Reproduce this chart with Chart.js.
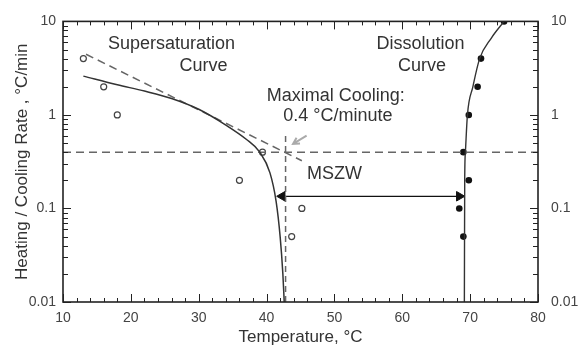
<!DOCTYPE html>
<html lang="en">
<head>
<meta charset="UTF-8">
<title>MSZW</title>
<style>
  html, body { margin: 0; padding: 0; background: #fff; }
</style>
</head>
<body>
<canvas id="grafico" width="579" height="348"></canvas>
<script src="https://cdn.jsdelivr.net/npm/chart.js"></script>
<script>
// tick labels
const xTicks = [10, 20, 30, 40, 50, 60, 70, 80];
const rateTicks = [0.01, 0.1, 1, 10];

// measured points (open = cooling, filled = heating)
const superX = [13, 16, 18, 36, 39.4, 43.7, 45.2];
const superRate = [4, 2, 1, 0.2, 0.4, 0.05, 0.1];
const dissX = [68.4, 69, 69, 69.8, 69.8, 71.1, 71.6, 75];
const dissRate = [0.1, 0.05, 0.4, 0.2, 1, 2, 4, 10];

// smooth curves
const superCurveX = [13, 18, 22, 26, 30, 34, 37, 39, 40.5, 41.4, 42, 42.4, 42.6];
const superCurveRate = [2.6, 2.1, 1.8, 1.5, 1.15, 0.78, 0.55, 0.4, 0.24, 0.12, 0.05, 0.02, 0.01];
const dissCurveX = [69.15, 69.2, 69.3, 69.6, 70.4, 71.4, 73.1, 75];
const dissCurveRate = [0.01, 0.2, 0.4, 1, 2, 4, 6.6, 10];

// straight dashed fit
const fitX = [13.4, 45.2];
const fitRate = [4.45, 0.324];

// maximal cooling line and its limit
const maxCoolX = [10, 80];
const maxCoolRate = [0.4, 0.4];
const limitX = [42.8, 42.8];
const limitRate = [0.01, 0.65];

// MSZW arrow (arrowhead centres)
const mszwX = [42.3, 68.4];
const mszwRate = [0.135, 0.135];

// grey pointer arrow
const pointerX = [45.9, 43.9];
const pointerRate = [0.6, 0.49];

const notas = [
    { texto: 'Supersaturation', x: 26.0, y: 5.7 },
    { texto: 'Curve', x: 30.7, y: 3.3 },
    { texto: 'Dissolution', x: 62.7, y: 5.7 },
    { texto: 'Curve', x: 62.9, y: 3.3 },
    { texto: 'Maximal Cooling:', x: 50.2, y: 1.59 },
    { texto: '0.4 °C/minute', x: 50.5, y: 0.98 },
    { texto: 'MSZW', x: 50.0, y: 0.235 }
];

function pontos(xs, ys) {
    return xs.map((v, i) => ({ x: v, y: ys[i] }));
}

const fonte = '"Liberation Sans", Arial, sans-serif';

const moldura = {
    id: 'moldura',
    afterDatasetsDraw(chart) {
        const { ctx, chartArea: a } = chart;
        const x = chart.scales.x;
        const y = chart.scales.y;
        ctx.save();
        ctx.strokeStyle = '#222';
        ctx.lineWidth = 1;
        ctx.beginPath();
        for (let v = x.min; v <= x.max; v += 2) {
            const px = Math.round(x.getPixelForValue(v)) + 0.5;
            const len = v % 10 === 0 ? 8 : 4;
            ctx.moveTo(px, a.bottom);
            ctx.lineTo(px, a.bottom - len);
            ctx.moveTo(px, a.top);
            ctx.lineTo(px, a.top + len);
        }
        const e0 = Math.round(Math.log10(y.min));
        const e1 = Math.round(Math.log10(y.max));
        for (let e = e0; e <= e1; e++) {
            for (let m = 1; m < 10; m++) {
                const v = m * Math.pow(10, e);
                if (v > y.max * 1.0001) break;
                const py = Math.round(y.getPixelForValue(v)) + 0.5;
                const len = m === 1 ? 8 : 5;
                ctx.moveTo(a.left, py);
                ctx.lineTo(a.left + len, py);
                ctx.moveTo(a.right, py);
                ctx.lineTo(a.right - len, py);
            }
        }
        ctx.stroke();
        ctx.lineWidth = 1.6;
        ctx.strokeRect(a.left, a.top, a.right - a.left, a.bottom - a.top);

        // grey pointer
        const x0 = x.getPixelForValue(pointerX[0]);
        const y0 = y.getPixelForValue(pointerRate[0]);
        const x1 = x.getPixelForValue(pointerX[1]);
        const y1 = y.getPixelForValue(pointerRate[1]);
        const ang = Math.atan2(y1 - y0, x1 - x0);
        ctx.strokeStyle = '#aaa';
        ctx.lineWidth = 2;
        ctx.beginPath();
        ctx.moveTo(x0, y0);
        ctx.lineTo(x1, y1);
        ctx.moveTo(x1 - 7 * Math.cos(ang - 0.5), y1 - 7 * Math.sin(ang - 0.5));
        ctx.lineTo(x1, y1);
        ctx.lineTo(x1 - 7 * Math.cos(ang + 0.5), y1 - 7 * Math.sin(ang + 0.5));
        ctx.stroke();

        ctx.fillStyle = '#333';
        ctx.font = '18px ' + fonte;
        ctx.textAlign = 'center';
        ctx.textBaseline = 'middle';
        notas.forEach(n => {
            ctx.fillText(n.texto, x.getPixelForValue(n.x), y.getPixelForValue(n.y));
        });
        ctx.restore();
    }
};

const escalaLog = {
    type: 'logarithmic',
    min: 0.01,
    max: 10,
    grid: { display: false, drawTicks: false },
    border: { display: false },
    afterBuildTicks: s => { s.ticks = rateTicks.map(v => ({ value: v })); },
    ticks: {
        autoSkip: false,
        color: '#444',
        font: { family: fonte, size: 14 },
        callback: v => String(v)
    }
};

new Chart(document.getElementById('grafico'), {
    type: 'scatter',
    data: {
        datasets: [
            {
                data: pontos(superCurveX, superCurveRate),
                showLine: true,
                borderColor: '#333',
                borderWidth: 1.5,
                pointRadius: 0,
                cubicInterpolationMode: 'monotone'
            },
            {
                data: pontos(dissCurveX, dissCurveRate),
                showLine: true,
                borderColor: '#333',
                borderWidth: 1.4,
                pointRadius: 0,
                cubicInterpolationMode: 'monotone'
            },
            {
                data: pontos(fitX, fitRate),
                showLine: true,
                borderColor: '#666',
                borderWidth: 1.5,
                borderDash: [8, 5],
                pointRadius: 0
            },
            {
                data: pontos(maxCoolX, maxCoolRate),
                showLine: true,
                borderColor: '#666',
                borderWidth: 1.5,
                borderDash: [8, 5],
                pointRadius: 0
            },
            {
                data: pontos(limitX, limitRate),
                showLine: true,
                borderColor: '#666',
                borderWidth: 1.5,
                borderDash: [6, 4],
                pointRadius: 0
            },
            {
                data: pontos(mszwX, mszwRate),
                showLine: true,
                borderColor: '#111',
                borderWidth: 1.3,
                pointStyle: 'triangle',
                pointRotation: [270, 90],
                pointRadius: 5.5,
                pointBorderWidth: 1,
                pointBackgroundColor: '#111',
                pointBorderColor: '#111'
            },
            {
                data: pontos(superX, superRate),
                pointRadius: 3,
                pointBorderWidth: 1.2,
                pointBorderColor: '#444',
                pointBackgroundColor: '#fff'
            },
            {
                data: pontos(dissX, dissRate),
                pointRadius: 3.3,
                pointBorderWidth: 0,
                pointBackgroundColor: '#111'
            }
        ]
    },
    options: {
        responsive: false,
        animation: false,
        devicePixelRatio: 1,
        layout: { padding: { top: 20, left: 0, right: 0, bottom: 0 } },
        plugins: {
            legend: { display: false },
            tooltip: { enabled: false }
        },
        scales: {
            x: {
                type: 'linear',
                position: 'bottom',
                min: 10,
                max: 80,
                grid: { display: false, drawTicks: false },
                border: { display: false },
                afterBuildTicks: s => { s.ticks = xTicks.map(v => ({ value: v })); },
                afterFit: s => { s.height = 46; },
                ticks: {
                    autoSkip: false,
                    maxRotation: 0,
                    padding: 8,
                    color: '#444',
                    font: { family: fonte, size: 14 }
                },
                title: {
                    display: true,
                    text: 'Temperature, °C',
                    color: '#333',
                    font: { family: fonte, size: 17 },
                    padding: { top: 0, bottom: 0 }
                }
            },
            y: {
                ...escalaLog,
                position: 'left',
                afterFit: s => { s.width = 63; },
                ticks: { ...escalaLog.ticks, padding: 7 },
                title: {
                    display: true,
                    text: 'Heating / Cooling Rate , °C/min',
                    color: '#333',
                    font: { family: fonte, size: 17 },
                    padding: { top: 12, bottom: 0 }
                }
            },
            y2: {
                ...escalaLog,
                position: 'right',
                afterFit: s => { s.width = 41; },
                ticks: { ...escalaLog.ticks, padding: 13 }
            }
        }
    },
    plugins: [moldura]
});
</script>
</body>
</html>
